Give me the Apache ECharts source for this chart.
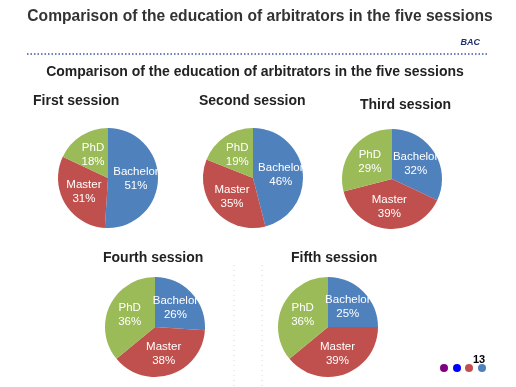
<!DOCTYPE html>
<html>
<head>
<meta charset="utf-8">
<script src="https://cdn.jsdelivr.net/npm/echarts@6/dist/echarts.min.js"></script>
<style>
html,body{margin:0;padding:0;background:#fff;}
#chart{width:516px;height:387px;}
</style>
</head>
<body>
<div id="chart"></div>
<script>
var mainTitle = 'Comparison of the education of arbitrators in the five sessions';
var sessions = ['First session', 'Second session', 'Third session', 'Fourth session', 'Fifth session'];
var categories = ['Bachelor', 'Master', 'PhD'];
var bachelor = [51, 46, 32, 26, 25];
var master = [31, 35, 39, 38, 39];
var phd = [18, 19, 29, 36, 36];
var pageNumber = '13';

var colors = ['#4F81BD', '#C0504D', '#9BBB59'];
var pieCenters = [[108, 178], [253, 178], [392, 179], [155, 327], [328, 327]];
var pieRadius = 50;
var titlePos = [[33, 101], [199, 101], [360, 105], [103, 258], [291, 258]];

var chart = echarts.init(document.getElementById('chart'), null, {renderer: 'canvas'});

var series = sessions.map(function (s, i) {
  return {
    type: 'pie',
    name: s,
    center: pieCenters[i],
    radius: pieRadius,
    startAngle: 90,
    clockwise: true,
    silent: true,
    color: colors,
    itemStyle: {borderWidth: 0},
    label: {
      show: true,
      position: 'inside',
      formatter: '{b}\n{c}%',
      color: '#fff',
      fontFamily: 'Liberation Sans, Arial, sans-serif',
      fontSize: 11.5,
      lineHeight: 14
    },
    labelLine: {show: false},
    data: categories.map(function (c, k) {
      return {name: c, value: [bachelor, master, phd][k][i]};
    })
  };
});

var graphics = [
  {type: 'text', x: 260, y: 17, style: {text: mainTitle, font: 'bold 15.6px "Liberation Sans", Arial, sans-serif', fill: '#333', textAlign: 'center', textVerticalAlign: 'middle'}},
  {type: 'text', x: 480, y: 43, style: {text: 'BAC', font: 'italic bold 9px "Liberation Sans", Arial, sans-serif', fill: '#1F2F70', textAlign: 'right', textVerticalAlign: 'middle'}},
  {type: 'line', shape: {x1: 27, y1: 54, x2: 489, y2: 54}, style: {stroke: '#3A55A8', lineWidth: 1.5, lineDash: [1.5, 2]}},
  {type: 'text', x: 255, y: 72, style: {text: mainTitle, font: 'bold 14px "Liberation Sans", Arial, sans-serif', fill: '#222', textAlign: 'center', textVerticalAlign: 'middle'}},
  {type: 'line', shape: {x1: 234, y1: 265, x2: 234, y2: 387}, style: {stroke: '#d8d8d8', lineWidth: 1, lineDash: [1, 4]}},
  {type: 'line', shape: {x1: 262, y1: 265, x2: 262, y2: 387}, style: {stroke: '#d8d8d8', lineWidth: 1, lineDash: [1, 4]}},
  {type: 'circle', shape: {cx: 444, cy: 368, r: 4}, style: {fill: '#800080'}},
  {type: 'circle', shape: {cx: 457, cy: 368, r: 4}, style: {fill: '#0000FF'}},
  {type: 'circle', shape: {cx: 469, cy: 368, r: 4}, style: {fill: '#C0504D'}},
  {type: 'circle', shape: {cx: 482, cy: 368, r: 4}, style: {fill: '#4F81BD'}},
  {type: 'text', x: 479, y: 360, style: {text: pageNumber, font: 'bold 11px "Liberation Sans", Arial, sans-serif', fill: '#000', textAlign: 'center', textVerticalAlign: 'middle'}}
];
sessions.forEach(function (s, i) {
  graphics.push({type: 'text', x: titlePos[i][0], y: titlePos[i][1], style: {text: s, font: 'bold 14px "Liberation Sans", Arial, sans-serif', fill: '#222', textVerticalAlign: 'middle'}});
});

chart.setOption({
  animation: false,
  backgroundColor: '#fff',
  series: series,
  graphic: {elements: graphics}
});
</script>
</body>
</html>
